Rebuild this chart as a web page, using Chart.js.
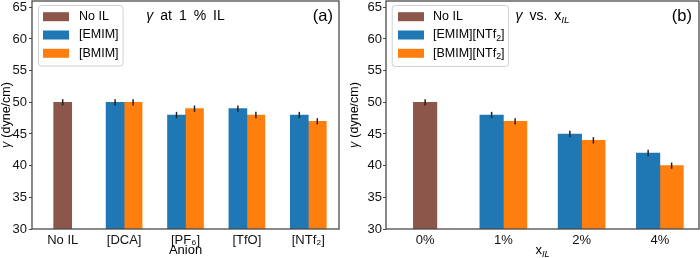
<!DOCTYPE html>
<html><head><meta charset="utf-8">
<script src="https://cdn.jsdelivr.net/npm/chart.js@4/dist/chart.umd.min.js"></script>
<style>
html,body{margin:0;padding:0;background:#fff;width:700px;height:258px;overflow:hidden}
.p{position:absolute;top:0;width:350px;height:258px}
</style></head><body>
<div class="p" style="left:0"><canvas id="ca" width="350" height="258"></canvas></div>
<div class="p" style="left:350px"><canvas id="cb" width="350" height="258"></canvas></div>
<script>
// ---------- data ----------
const anionLabels = ['No IL', '[DCA]', '[PF₆]', '[TfO]', '[NTf₂]'];
const noIL_a  = [50, null, null, null, null];
const emim_a  = [null, 50, 48, 49, 48];
const bmim_a  = [null, 50, 49, 48, 47];
const errNoIL_a = [0.5, null, null, null, null];
const errEmim_a = [null, 0.5, 0.5, 0.5, 0.5];
const errBmim_a = [null, 0.5, 0.5, 0.5, 0.5];

const fracLabels = ['0%', '1%', '2%', '4%'];
const noIL_b  = [50, null, null, null];
const emim_b  = [null, 48, 45, 42];
const bmim_b  = [null, 47, 44, 40];
const errNoIL_b = [0.5, null, null, null];
const errEmim_b = [null, 0.5, 0.5, 0.5];
const errBmim_b = [null, 0.5, 0.5, 0.5];

const yMin = 30, yMax = 66, yStep = 5;
const yTickValues = [30, 35, 40, 45, 50, 55, 60, 65];

// ---------- helpers ----------
const FAM = '"Liberation Sans", Arial, sans-serif';
const BROWN = '#8c564b', BLUE = '#1f77b4', ORANGE = '#ff7f0e';
const SUBS = {'₀':'0','₁':'1','₂':'2','₃':'3','₄':'4','₅':'5','₆':'6','₇':'7','₈':'8','₉':'9'};
function parseSub(str){
  const segs=[]; let cur='', curSub=false;
  for (const ch of str){
    const isSub = ch in SUBS;
    if (isSub!==curSub && cur){ segs.push({t:cur, sub:curSub}); cur=''; }
    curSub=isSub; cur += isSub ? SUBS[ch] : ch;
  }
  if (cur) segs.push({t:cur, sub:curSub});
  return segs;
}
function fontFor(s,size){ return (s.it?'italic ':'') + (s.sub? size*0.7 : size) + 'px ' + FAM; }
function measureRich(ctx, segs, size){
  let w=0; for (const s of segs){ ctx.font=fontFor(s,size); s.w=ctx.measureText(s.t).width + (s.gap||0); w+=s.w; } return w;
}
function drawRich(ctx, segs, x, y, align, size, color){
  const w = measureRich(ctx, segs, size);
  let cx = align==='center' ? x-w/2 : align==='right' ? x-w : x;
  ctx.textBaseline='middle'; ctx.textAlign='left'; ctx.fillStyle=color||'#000';
  for (const s of segs){ ctx.font=fontFor(s,size); ctx.fillText(s.t, cx + (s.gap||0), y + (s.sub? size*0.3 : 0)); cx+=s.w; }
  return w;
}

const errorBars = {
  id:'errorBars',
  afterDatasetsDraw(chart){
    const ctx=chart.ctx, ys=chart.scales.y;
    chart.data.datasets.forEach((ds,di)=>{
      const meta=chart.getDatasetMeta(di);
      meta.data.forEach((el,i)=>{
        const v=ds.data[i], e=ds.errors[i];
        if (v==null || e==null || !isFinite(el.x)) return;
        ctx.save(); ctx.beginPath();
        ctx.moveTo(el.x, ys.getPixelForValue(v-e));
        ctx.lineTo(el.x, ys.getPixelForValue(v+e));
        ctx.strokeStyle='#222'; ctx.lineWidth=1.5; ctx.stroke(); ctx.restore();
      });
    });
  }
};

const decor = {
  id:'decor',
  afterDraw(chart, args, o){
    const ctx=chart.ctx, ca=chart.chartArea;
    ctx.save();
    // frame
    ctx.strokeStyle='#4a4a4a'; ctx.lineWidth=1.3;
    ctx.strokeRect(ca.left, ca.top, ca.right-ca.left, ca.bottom-ca.top);
    // legend
    const L=o.legend, size=12.5;
    const items = chart.data.datasets.map(d=>({segs:parseSub(d.label), color:d.backgroundColor}));
    let maxW=0; items.forEach(it=>{ maxW=Math.max(maxW, measureRich(ctx,it.segs,size)); });
    const bx=ca.left+L.dx, by=ca.top+L.dy, bw=L.textX+maxW+L.padR, bh=L.h;
    ctx.beginPath(); ctx.roundRect(bx+0.5, by+0.5, bw, bh, 3);
    ctx.fillStyle='rgba(255,255,255,0.85)'; ctx.fill();
    ctx.strokeStyle='#d0d0d0'; ctx.lineWidth=1; ctx.stroke();
    items.forEach((it,i)=>{
      const cy=by+L.row0+i*L.rowH;
      ctx.fillStyle=it.color; ctx.fillRect(bx+L.swX, cy-4.5, 26, 9);
      drawRich(ctx, it.segs, bx+L.textX, cy, 'left', size, '#000');
    });
    // in-plot title and panel letter
    const mid=(ca.left+ca.right)/2;
    drawRich(ctx, o.title, mid, ca.top+15.5, 'center', 14, '#000');
    drawRich(ctx, [{t:o.letter}], ca.right-o.letterPad, ca.top+15.5, 'right', 16.5, '#000');
    // axis titles
    drawRich(ctx, o.xTitle, mid, 250.5, 'center', 13, '#000');
    ctx.translate(o.yTitleX, (ca.top+ca.bottom)/2); ctx.rotate(-Math.PI/2);
    drawRich(ctx, [{t:'γ',it:true},{t:'(dyne/cm)',gap:4}], 0, 0, 'center', 12.5, '#000');
    ctx.restore();
  }
};

Chart.defaults.font.family = FAM;
Chart.defaults.font.size = 12.5;
Chart.defaults.color = '#111';

function makeChart(id, labels, sets, opt){
  return new Chart(document.getElementById(id), {
    type:'bar',
    data:{ labels, datasets: sets.map(s=>({
      label:s.label, data:s.data, errors:s.err, backgroundColor:s.color,
      borderWidth:0, barThickness:opt.barW, skipNull:true
    }))},
    options:{
      responsive:false, animation:false, devicePixelRatio:1,
      layout:{ padding:{ left:0, right:opt.padR, top:1, bottom:0 } },
      plugins:{ legend:{display:false}, tooltip:{enabled:false}, decor:opt.decor },
      scales:{
        x:{ grid:{display:false, drawTicks:false, tickLength:0}, border:{display:false},
            ticks:{ padding:4, maxRotation:0, autoSkip:false, color:'#111', font:{size:13} },
            afterFit(s){ s.height=29; s.paddingLeft=0; s.paddingRight=0; } },
        y:{ min:yMin, max:yMax,
            grid:{ display:true, drawOnChartArea:false, drawTicks:true, tickLength:3, color:'#4a4a4a' },
            border:{display:false},
            ticks:{ stepSize:yStep, padding:opt.tickPad, color:'#111', font:{size:13} },
            afterBuildTicks(s){ s.ticks = yTickValues.map(v=>({value:v})); },
            afterFit(s){ s.width=opt.yW; s.paddingTop=0; s.paddingBottom=0; } }
      }
    },
    plugins:[errorBars, decor]
  });
}

makeChart('ca', anionLabels, [
  {label:'No IL', data:noIL_a, err:errNoIL_a, color:BROWN},
  {label:'[EMIM]', data:emim_a, err:errEmim_a, color:BLUE},
  {label:'[BMIM]', data:bmim_a, err:errBmim_a, color:ORANGE}
], { barW:18, padR:11, yW:32, tickPad:2,
     decor:{ legend:{dx:6, dy:4, swX:5, textX:41, padR:4, h:60.5, row0:11.7, rowH:18.3},
             title:[{t:'γ',it:true},{t:'at',gap:7},{t:'1',gap:7},{t:'%',gap:7},{t:'IL',gap:7}], letter:'(a)', letterPad:6,
             xTitle:[{t:'Anion'}], yTitleX:7 } });

makeChart('cb', fracLabels, [
  {label:'No IL', data:noIL_b, err:errNoIL_b, color:BROWN},
  {label:'[EMIM][NTf₂]', data:emim_b, err:errEmim_b, color:BLUE},
  {label:'[BMIM][NTf₂]', data:bmim_b, err:errBmim_b, color:ORANGE}
], { barW:23.5, padR:1, yW:36, tickPad:1,
     decor:{ legend:{dx:5.7, dy:4, swX:6.3, textX:41.3, padR:3.5, h:61, row0:11.7, rowH:18.3},
             title:[{t:'γ',it:true},{t:'vs.',gap:7},{t:'x',gap:7},{t:'IL',it:true,sub:true}], letter:'(b)', letterPad:7,
             xTitle:[{t:'x'},{t:'IL',it:true,sub:true}], yTitleX:5 } });
</script>
</body></html>
